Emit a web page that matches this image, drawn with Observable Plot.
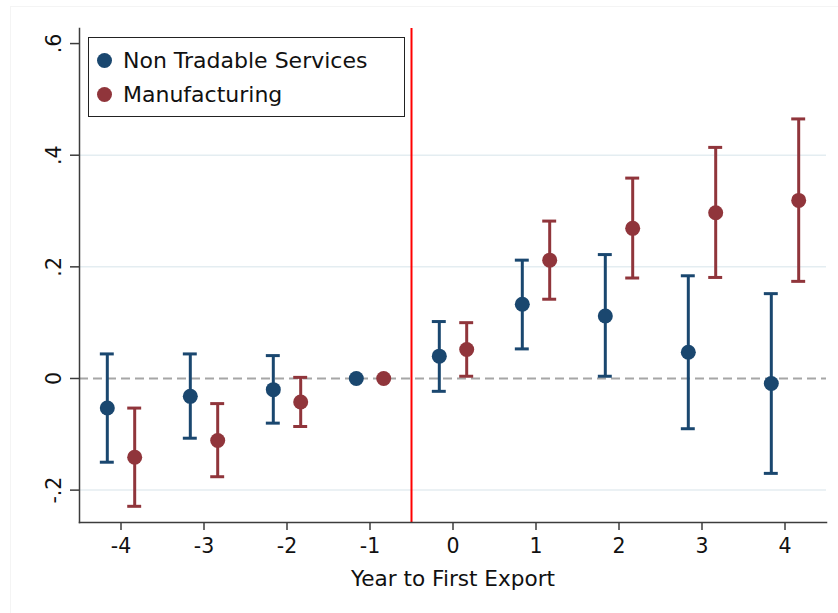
<!DOCTYPE html>
<html>
<head>
<meta charset="utf-8">
<script src="https://cdn.jsdelivr.net/npm/d3@7"></script>
<script src="https://cdn.jsdelivr.net/npm/@observablehq/plot@0.6"></script>
<style>
  html, body { margin: 0; padding: 0; background: #fff; }
  #wrap { position: relative; width: 838px; height: 613px; font-family: "DejaVu Sans", sans-serif; }
  #frame { position: absolute; left: 10px; top: 6px; right: 0; bottom: 0; border-left: 1px solid #f4f4f4; border-top: 1px solid #f4f4f4; pointer-events: none; }
  #legend { position: absolute; left: 88px; top: 37px; width: 317px; height: 80px; border: 1px solid #222; background: #fff; box-sizing: border-box; font-size: 22px; color: #111; }
  .item { position: absolute; left: 8px; display: flex; align-items: center; height: 24px; }
  .sw { width: 15px; height: 15px; border-radius: 50%; margin-right: 11px; }
</style>
</head>
<body>
<div id="wrap">
  <div id="chart"></div>
  <div id="frame"></div>
  <div id="legend"></div>
</div>
<script>
// ---- data ----
const years = [-4, -3, -2, -1, 0, 1, 2, 3, 4];
const seriesNames = ["Non Tradable Services", "Manufacturing"];
const seriesColors = ["#1a476f", "#90353b"];

const ntsEst = [-0.053, -0.032, -0.020, 0, 0.040, 0.133, 0.112, 0.047, -0.009];
const ntsLo  = [-0.150, -0.107, -0.080, 0, -0.023, 0.053, 0.004, -0.090, -0.170];
const ntsHi  = [0.044, 0.044, 0.041, 0, 0.102, 0.212, 0.222, 0.184, 0.152];

const mfgEst = [-0.141, -0.111, -0.042, 0, 0.052, 0.212, 0.269, 0.297, 0.319];
const mfgLo  = [-0.229, -0.176, -0.086, 0, 0.004, 0.142, 0.180, 0.181, 0.174];
const mfgHi  = [-0.053, -0.045, 0.002, 0, 0.100, 0.282, 0.359, 0.414, 0.465];

const xTicks = [-4, -3, -2, -1, 0, 1, 2, 3, 4];
const yTicks = [-0.2, 0, 0.2, 0.4, 0.6];
const yTickLabels = ["-.2", "0", ".2", ".4", ".6"];
const gridValues = [-0.2, 0.2, 0.4];
const eventLine = [-0.5];
const xTitle = "Year to First Export";

// ---- build table ----
const dodge = 0.165;
const capHalf = 0.084;
const rows = [];
years.forEach((yr, i) => {
  rows.push({series: seriesNames[0], x: yr - dodge, est: ntsEst[i], lo: ntsLo[i], hi: ntsHi[i]});
  rows.push({series: seriesNames[1], x: yr + dodge, est: mfgEst[i], lo: mfgLo[i], hi: mfgHi[i]});
});
const bars = rows.filter(d => d.lo !== d.hi);
const caps = bars.flatMap(d => [{...d, cy: d.lo}, {...d, cy: d.hi}]);

const axisColor = "#3c3c3c";

const chart = Plot.plot({
  width: 838,
  height: 613,
  marginLeft: 79,
  marginRight: 12,
  marginTop: 28,
  marginBottom: 91,
  style: {fontFamily: "DejaVu Sans, sans-serif", fontSize: "20px", color: "#111", background: "#fff"},
  x: {domain: [-4.5, 4.5]},
  y: {domain: [-0.258, 0.627]},
  color: {domain: seriesNames, range: seriesColors},
  marks: [
    Plot.gridY(gridValues, {stroke: "#e4edf1", strokeOpacity: 1, strokeWidth: 1.5}),
    Plot.ruleY([0], {stroke: "#a6a6a6", strokeWidth: 2, strokeDasharray: "9,5"}),
    Plot.ruleX(eventLine, {stroke: "#ff0000", strokeWidth: 2}),
    Plot.ruleX(bars, {x: "x", y1: "lo", y2: "hi", stroke: "series", strokeWidth: 3}),
    Plot.ruleY(caps, {y: "cy", x1: d => d.x - capHalf, x2: d => d.x + capHalf, stroke: "series", strokeWidth: 3}),
    Plot.dot(rows, {x: "x", y: "est", fill: "series", r: 7.5}),
    Plot.frame({anchor: "left", stroke: axisColor, strokeWidth: 1.5}),
    Plot.frame({anchor: "bottom", stroke: axisColor, strokeWidth: 1.5}),
    Plot.axisX({ticks: xTicks, tickFormat: d => String(d), tickSize: 8, tickPadding: 8, stroke: axisColor, strokeWidth: 1.5,
      label: null, fontSize: 20.5}),
    Plot.axisX({ticks: [], tickSize: 0, label: xTitle, labelAnchor: "center", labelArrow: false, labelOffset: 63, fontSize: 21.6}),
    Plot.axisY({ticks: yTicks, tickFormat: (d) => yTickLabels[yTicks.indexOf(d)], tickSize: 9, tickRotate: -90, tickPadding: 10,
      stroke: axisColor, strokeWidth: 1.5, label: null, fontSize: 20.5})
  ]
});
document.getElementById("chart").appendChild(chart);

// legend
const legend = document.getElementById("legend");
seriesNames.forEach((name, i) => {
  const item = document.createElement("div");
  item.className = "item";
  item.style.top = (i === 0 ? 10 : 44) + "px";
  const sw = document.createElement("span");
  sw.className = "sw";
  sw.style.background = seriesColors[i];
  const tx = document.createElement("span");
  tx.textContent = name;
  item.appendChild(sw);
  item.appendChild(tx);
  legend.appendChild(item);
});
</script>
</body>
</html>
